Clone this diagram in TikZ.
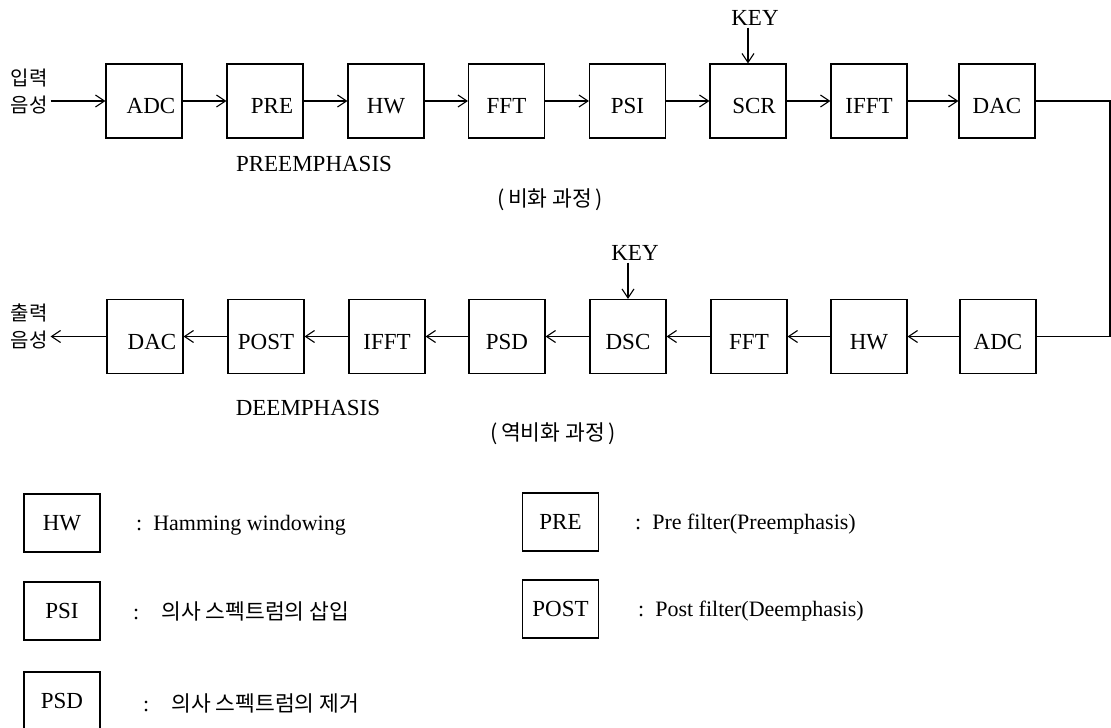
\documentclass[tikz,border=0pt]{standalone}
\usepackage{fontspec}
\setmainfont{Liberation Serif}
\newfontfamily\kfont{Noto Sans CJK KR}
\usetikzlibrary{arrows.meta}

\begin{document}
\begin{tikzpicture}[x=1pt, y=-1pt]
  %
  \def\bw{76pt}
  \def\bh{74pt}
  \def\ty{101}
  \def\by{336.5}
  %
  \tikzset{
    blk/.style={draw, line width=1.1pt, minimum width=\bw, minimum height=\bh, inner sep=0pt,
                text height=25pt, text depth=0pt, font=\fontsize{23}{25}\selectfont},
    lbox/.style={draw, line width=1.1pt, minimum width=\bw, minimum height=58pt, inner sep=0pt,
                 font=\fontsize{23}{25}\selectfont},
    sig/.style={line width=1.1pt, -{Straight Barb[length=9pt, width=12pt, line width=1.1pt]}},
    wire/.style={line width=1.1pt},
    lat/.style={inner sep=2pt, font=\fontsize{23}{25}\selectfont},
    kor/.style={inner sep=3pt, font=\kfont\fontsize{20}{22}\selectfont},
    desc/.style={anchor=west, inner sep=0pt, font=\fontsize{22}{24}\selectfont},
  }
  \useasboundingbox (0,0) rectangle (1111,728);
  %
  %%% SCRAMBLING %%%
  \foreach \nm/\txt/\cx/\dx in {
    eADC/ADC/144/14pt, ePRE/PRE/265/14pt, eHW/HW/386/0pt, eFFT/FFT/506.5/0pt,
    ePSI/PSI/627.5/0pt, eSCR/SCR/748/12pt, eIFFT/IFFT/869/0pt, eDAC/DAC/997/0pt%
  } {
    \node[blk] (\nm) at (\cx, \ty) {\hspace*{\dx}\txt};
  }
  \foreach \a/\b in {eADC/ePRE, ePRE/eHW, eHW/eFFT, eFFT/ePSI, ePSI/eSCR, eSCR/eIFFT, eIFFT/eDAC} {
    \draw[sig] (\a) -- (\b);
  }
  %
  \node[kor] (in1) at (29, 78) {입력};
  \node[kor] (in2) at (29, 105) {음성};
  \draw[sig] (in2.east |- eADC.west) -- (eADC.west);
  %
  \node[lat] (key1) at (755, 18) {KEY};
  \draw[sig] (key1.south -| eSCR.north) -- (eSCR.north);
  %
  \node[lat] (pre) at (314, 164) {PREEMPHASIS};
  \node[kor, font=\kfont\fontsize{21.5}{24}\selectfont] (enc) at (550, 200) {(\,비화 과정\,)};
  %
  %%% DESCRAMBLING %%%
  \foreach \nm/\txt/\cx/\dx in {
    dDAC/DAC/145/14pt, dPOST/POST/266/0pt, dIFFT/IFFT/387/0pt, dPSD/PSD/507/0pt,
    dDSC/DSC/628/0pt, dFFT/FFT/749/0pt, dHW/HW/869/0pt, dADC/ADC/998/0pt%
  } {
    \node[blk] (\nm) at (\cx, \by) {\hspace*{\dx}\txt};
  }
  \foreach \a/\b in {dADC/dHW, dHW/dFFT, dFFT/dDSC, dDSC/dPSD, dPSD/dIFFT, dIFFT/dPOST, dPOST/dDAC} {
    \draw[sig] (\a) -- (\b);
  }
  %
  \node[kor] (out1) at (29, 313) {출력};
  \node[kor] (out2) at (29, 340) {음성};
  \draw[sig] (dDAC.west) -- (out2.east |- dDAC.west);
  %
  \node[lat] (key2) at (635, 253) {KEY};
  \draw[sig] (key2.south -| dDSC.north) -- (dDSC.north);
  %
  \node[lat] (deem) at (308, 408) {DEEMPHASIS};
  \node[kor, font=\kfont\fontsize{21.5}{24}\selectfont] (dec) at (553, 434) {(\,역비화 과정\,)};
  %
  % link between the two rows
  \coordinate (rt) at (1110, \ty);
  \draw[wire] (eDAC.east) -- (rt) |- (dADC.east);
  %
  %%% LEGEND %%%
  \node[lbox] (lHW) at (62, 523) {HW};
  \node[desc] (tHW) at (136, 525) {:\enspace Hamming windowing};
  \node[lbox] (lPSI) at (62, 611) {PSI};
  \node[desc] (tPSI) at (133, 611) {:\quad{\kfont\fontsize{21.5}{24}\selectfont 의사 스펙트럼의 삽입}};
  \node[lbox] (lPSD) at (62, 701) {PSD};
  \node[desc] (tPSD) at (143, 703) {:\quad{\kfont\fontsize{21.5}{24}\selectfont 의사 스펙트럼의 제거}};
  %
  \node[lbox] (lPRE) at (560.5, 522) {PRE};
  \node[desc] (tPRE) at (635, 524) {:\enspace Pre filter(Preemphasis)};
  \node[lbox] (lPOST) at (560.5, 609) {POST};
  \node[desc] (tPOST) at (638, 611) {:\enspace Post filter(Deemphasis)};
\end{tikzpicture}
\end{document}
